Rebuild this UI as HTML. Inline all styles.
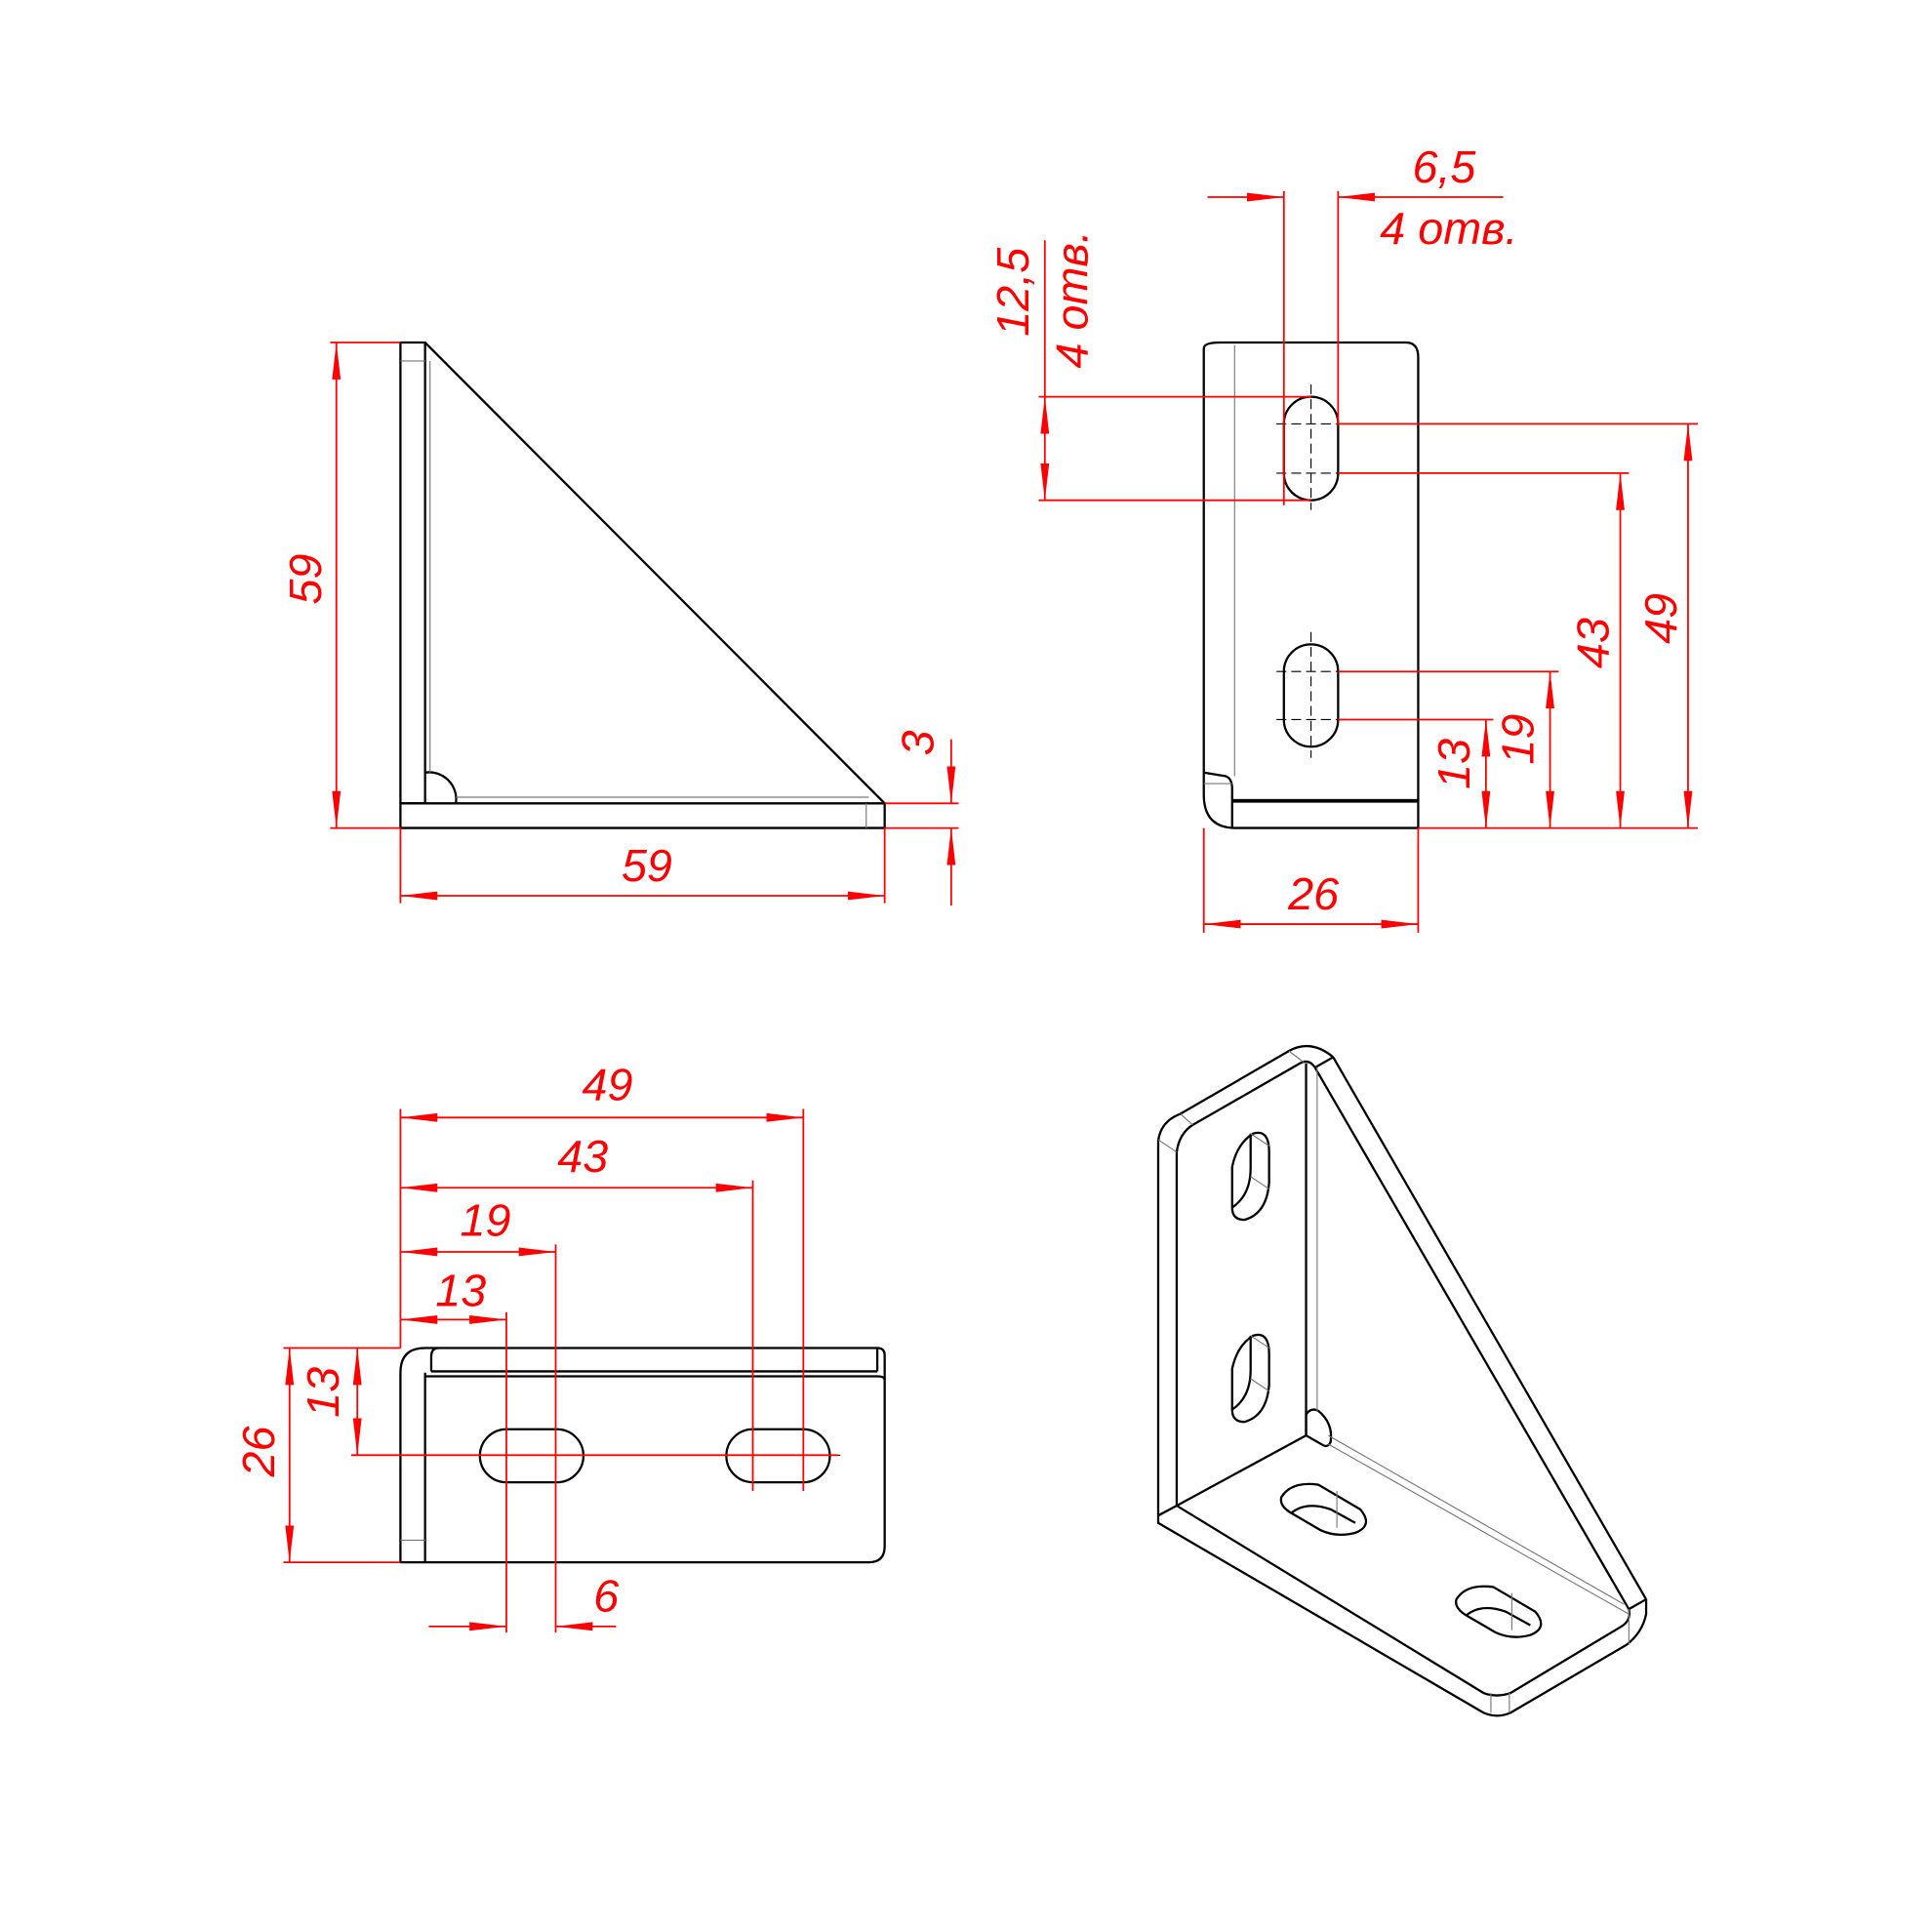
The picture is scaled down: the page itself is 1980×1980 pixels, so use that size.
<!DOCTYPE html>
<html><head><meta charset="utf-8"><style>
html,body{margin:0;padding:0;background:#fff}
svg{display:block}
text{font-family:"Liberation Sans Narrow","Liberation Sans",sans-serif;font-style:italic;fill:#f00;font-size:37px}
</style></head><body>
<svg width="1980" height="1980" viewBox="0 0 1568 1568" xmlns="http://www.w3.org/2000/svg">
<defs>
<marker id="a" markerUnits="userSpaceOnUse" markerWidth="32" markerHeight="10" refX="30" refY="5" orient="auto-start-reverse" viewBox="0 0 32 10">
<path d="M0,1.5 L30,5 L0,8.5 z" fill="#f00"/></marker>
</defs>
<g fill="none" stroke="#000" stroke-width="1.8" stroke-linejoin="round">
<rect x="325" y="278" width="20" height="374"/>
<line x1="345" y1="278" x2="718" y2="652"/>
<rect x="325" y="652" width="393" height="20"/>
<path d="M345,627 A22,22 0 0 1 370,652"/>
<path d="M977,283 Q977,278 990,278 L1141,278 Q1151,278 1151,290 L1151,672 L1003,672 Q977,672 977,645 Z"/>
<line x1="1000" y1="650" x2="1151" y2="650" stroke-width="3"/>
<path d="M977,627 L995,630 Q1000,632 1000,640 L1000,672"/>
<path d="M1042,344 A22,22 0 0 1 1086,344 L1086,384 A22,22 0 0 1 1042,384 Z"/>
<path d="M1042,545 A22,22 0 0 1 1086,545 L1086,584 A22,22 0 0 1 1042,584 Z"/>
<path d="M325,1268 L325,1114 Q325,1094 345,1094 L712,1094 Q718,1094 718,1100 L718,1255 Q718,1268 705,1268 Z"/>
<line x1="345" y1="1114" x2="345" y2="1268"/>
<path d="M350,1113 L350,1101 Q350,1094 356,1094"/>
<line x1="350" y1="1113" x2="712" y2="1113"/>
<line x1="712" y1="1094" x2="712" y2="1113"/>
<path d="M345,1117 L712,1117 Q718,1117 718,1120"/>
<path d="M411,1160 L452,1160 A21.5,21.5 0 0 1 452,1203 L411,1203 A21.5,21.5 0 0 1 411,1160 Z"/>
<path d="M611,1160 L652,1160 A21.5,21.5 0 0 1 652,1203 L611,1203 A21.5,21.5 0 0 1 611,1160 Z"/>
<path d="M940,1230 L940,926 Q942,910 958,904 L1046,853 Q1064,843 1082,858"/>
<line x1="940" y1="1230" x2="955" y2="1222"/>
<path d="M955,1222 L955,935 Q957,920 968,913 L1055,863 Q1062,859 1067,866"/>
<line x1="1060" y1="863" x2="1060" y2="1165"/>
<line x1="1067" y1="866" x2="1322" y2="1306"/>
<line x1="1082" y1="858" x2="1336" y2="1298"/>
<line x1="1068" y1="866" x2="1082" y2="858"/>
<line x1="1060" y1="1165" x2="955" y2="1222"/>
<path d="M1060,1165 L1060,1148 Q1064,1142 1070,1145 Q1082,1155 1080,1170 Q1078,1175 1074,1173 L1060,1165"/>
<path d="M940,1230 L940,1236 L1204,1390 Q1215,1395 1226,1390 L1320,1335 Q1333,1325 1336,1310 L1336,1298"/>
<path d="M955,1222 L1204,1374 Q1214,1378 1226,1374 L1316,1320 Q1324,1315 1322,1306"/>
<line x1="1322" y1="1306" x2="1336" y2="1298"/>
<path d="M1000,947 Q1004,928 1017,920 Q1030,916 1030,935 L1030,960 Q1028,985 1010,990 Q1000,990 1000,980 Z"/>
<path d="M1000,980 Q1015,970 1015,948 L1015,920"/>
<path d="M1000,1111 Q1004,1092 1017,1084 Q1030,1080 1030,1099 L1030,1124 Q1028,1149 1010,1154 Q1000,1154 1000,1144 Z"/>
<path d="M1000,1144 Q1015,1134 1015,1112 L1015,1084"/>
<path d="M1040,1215 Q1048,1202 1070,1205 L1104,1225 Q1115,1238 1100,1244 Q1085,1248 1072,1242 L1048,1228 Q1038,1222 1040,1215 Z"/>
<path d="M1048,1228 Q1060,1218 1080,1225 L1100,1236"/>
<path d="M1182,1298 Q1190,1285 1212,1288 L1246,1308 Q1257,1321 1242,1327 Q1227,1331 1214,1325 L1190,1311 Q1180,1305 1182,1298 Z"/>
<path d="M1190,1311 Q1202,1301 1222,1308 L1242,1319"/>
</g>
<g fill="none" stroke="#777" stroke-width="0.9">
<line x1="349" y1="293" x2="349" y2="627"/>
<line x1="325" y1="293" x2="345" y2="293"/>
<line x1="370" y1="647" x2="705" y2="647"/>
<line x1="703" y1="652" x2="703" y2="672"/>
<line x1="1002" y1="280" x2="1002" y2="630"/>
<line x1="977" y1="636" x2="1000" y2="636"/>
<line x1="325" y1="1250" x2="345" y2="1250"/>
<line x1="1069" y1="866" x2="1069" y2="1146"/>
<line x1="1078" y1="1172" x2="1322" y2="1310"/>
<line x1="1078" y1="1165" x2="1318" y2="1302"/>
<line x1="940" y1="925" x2="955" y2="935"/>
<line x1="958" y1="904" x2="968" y2="913"/>
<line x1="1046" y1="853" x2="1058" y2="862"/>
<line x1="1015" y1="920" x2="1030" y2="930"/><line x1="1015" y1="955" x2="1030" y2="965"/>
<line x1="1015" y1="1084" x2="1030" y2="1094"/><line x1="1015" y1="1119" x2="1030" y2="1129"/>
<line x1="1085" y1="1210" x2="1085" y2="1240"/><line x1="1227" y1="1293" x2="1227" y2="1323"/>
<line x1="1210" y1="1374" x2="1210" y2="1390"/><line x1="1225" y1="1374" x2="1225" y2="1390"/>
<line x1="1322" y1="1306" x2="1322" y2="1335"/>
</g>
<g stroke="#000" stroke-width="0.9" stroke-dasharray="8,4" fill="none">
<line x1="1064" y1="312" x2="1064" y2="414"/><line x1="1064" y1="513" x2="1064" y2="615"/>
<line x1="1036" y1="344" x2="1092" y2="344"/><line x1="1036" y1="384" x2="1092" y2="384"/>
<line x1="1036" y1="545" x2="1092" y2="545"/><line x1="1036" y1="584" x2="1092" y2="584"/>
<line x1="382" y1="1181" x2="482" y2="1181"/><line x1="582" y1="1181" x2="682" y2="1181"/>
<line x1="611" y1="1155" x2="611" y2="1210"/><line x1="652" y1="1155" x2="652" y2="1210"/>
</g>
<g stroke="#f00" stroke-width="1.4" fill="none">
<line x1="268" y1="278" x2="325" y2="278"/><line x1="268" y1="672" x2="325" y2="672"/>
<line x1="273" y1="278" x2="273" y2="672" marker-start="url(#a)" marker-end="url(#a)"/>
<line x1="325" y1="672" x2="325" y2="733"/><line x1="718" y1="672" x2="718" y2="733"/>
<line x1="325" y1="727" x2="718" y2="727" marker-start="url(#a)" marker-end="url(#a)"/>
<line x1="718" y1="652" x2="778" y2="652"/><line x1="718" y1="672" x2="778" y2="672"/>
<line x1="772" y1="600" x2="772" y2="652" marker-end="url(#a)"/>
<line x1="772" y1="735" x2="772" y2="672" marker-end="url(#a)"/>
<line x1="1042" y1="155" x2="1042" y2="410"/><line x1="1086" y1="155" x2="1086" y2="345"/>
<line x1="980" y1="160" x2="1042" y2="160" marker-end="url(#a)"/>
<line x1="1220" y1="160" x2="1086" y2="160" marker-end="url(#a)"/>
<line x1="843" y1="322" x2="1064" y2="322"/><line x1="843" y1="406" x2="1064" y2="406"/>
<line x1="848" y1="195" x2="848" y2="322"/>
<line x1="848" y1="322" x2="848" y2="406" marker-start="url(#a)" marker-end="url(#a)"/>
<line x1="1086" y1="344" x2="1378" y2="344"/><line x1="1086" y1="384" x2="1322" y2="384"/>
<line x1="1086" y1="545" x2="1265" y2="545"/><line x1="1086" y1="584" x2="1212" y2="584"/>
<line x1="1151" y1="672" x2="1378" y2="672"/>
<line x1="1370" y1="344" x2="1370" y2="672" marker-start="url(#a)" marker-end="url(#a)"/>
<line x1="1315" y1="384" x2="1315" y2="672" marker-start="url(#a)" marker-end="url(#a)"/>
<line x1="1258" y1="545" x2="1258" y2="672" marker-start="url(#a)" marker-end="url(#a)"/>
<line x1="1206" y1="584" x2="1206" y2="672" marker-start="url(#a)" marker-end="url(#a)"/>
<line x1="977" y1="672" x2="977" y2="757"/><line x1="1151" y1="672" x2="1151" y2="757"/>
<line x1="977" y1="750" x2="1151" y2="750" marker-start="url(#a)" marker-end="url(#a)"/>
<line x1="325" y1="900" x2="325" y2="1094"/>
<line x1="652" y1="900" x2="652" y2="1210"/><line x1="611" y1="958" x2="611" y2="1210"/>
<line x1="451" y1="1010" x2="451" y2="1325"/><line x1="411" y1="1065" x2="411" y2="1325"/>
<line x1="325" y1="907" x2="652" y2="907" marker-start="url(#a)" marker-end="url(#a)"/>
<line x1="325" y1="964" x2="611" y2="964" marker-start="url(#a)" marker-end="url(#a)"/>
<line x1="325" y1="1016" x2="451" y2="1016" marker-start="url(#a)" marker-end="url(#a)"/>
<line x1="325" y1="1071" x2="411" y2="1071" marker-start="url(#a)" marker-end="url(#a)"/>
<line x1="285" y1="1181" x2="680" y2="1181"/>
<line x1="230" y1="1094" x2="325" y2="1094"/><line x1="230" y1="1268" x2="325" y2="1268"/>
<line x1="235" y1="1094" x2="235" y2="1268" marker-start="url(#a)" marker-end="url(#a)"/>
<line x1="290" y1="1094" x2="290" y2="1181" marker-start="url(#a)" marker-end="url(#a)"/>
<line x1="348" y1="1320" x2="411" y2="1320" marker-end="url(#a)"/>
<line x1="500" y1="1320" x2="451" y2="1320" marker-end="url(#a)"/>
</g>
<text transform="rotate(-90 248 470)" x="248" y="470" text-anchor="middle" dominant-baseline="central">59</text>
<text x="525" y="715" text-anchor="middle">59</text>
<text transform="rotate(-90 745 603)" x="745" y="603" text-anchor="middle" dominant-baseline="central">3</text>
<text x="1172" y="148" text-anchor="middle">6,5</text>
<text x="1120" y="198">4 отв.</text>
<text transform="rotate(-90 822 237)" x="822" y="237" text-anchor="middle" dominant-baseline="central">12,5</text>
<text transform="rotate(-90 870 243)" x="870" y="243" text-anchor="middle" dominant-baseline="central">4 отв.</text>
<text transform="rotate(-90 1348 502)" x="1348" y="502" text-anchor="middle" dominant-baseline="central">49</text>
<text transform="rotate(-90 1293 522)" x="1293" y="522" text-anchor="middle" dominant-baseline="central">43</text>
<text transform="rotate(-90 1232 600)" x="1232" y="600" text-anchor="middle" dominant-baseline="central">19</text>
<text transform="rotate(-90 1180 620)" x="1180" y="620" text-anchor="middle" dominant-baseline="central">13</text>
<text x="1066" y="738" text-anchor="middle">26</text>
<text x="493" y="893" text-anchor="middle">49</text>
<text x="473" y="951" text-anchor="middle">43</text>
<text x="394" y="1003" text-anchor="middle">19</text>
<text x="374" y="1060" text-anchor="middle">13</text>
<text x="492" y="1308" text-anchor="middle">6</text>
<text transform="rotate(-90 210 1178)" x="210" y="1178" text-anchor="middle" dominant-baseline="central">26</text>
<text transform="rotate(-90 262 1130)" x="262" y="1130" text-anchor="middle" dominant-baseline="central">13</text>
</svg>
</body></html>
